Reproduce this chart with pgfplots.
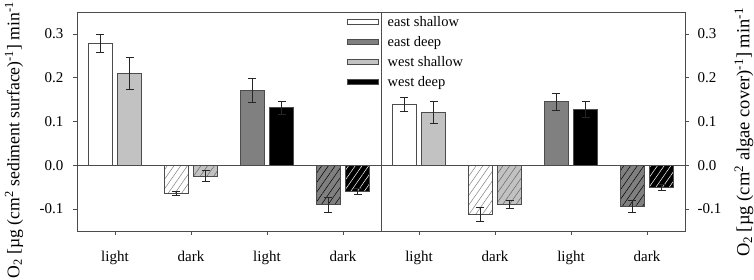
\documentclass[border=0pt]{standalone}
\usepackage{fontspec}
\setmainfont{Liberation Serif}
\usepackage{pgfplots}
\pgfplotsset{compat=1.18}
\usetikzlibrary{patterns.meta}

\definecolor{dg}{gray}{0.5}
\definecolor{lg}{gray}{0.76}
\definecolor{ax}{gray}{0.3}

\tikzset{hatch/.style={postaction={pattern={Lines[angle=55,distance=5.5pt,line width=0.5pt]},pattern color=#1}}}

\pgfplotsset{
 panel/.style={
  width=304pt, height=219pt, scale only axis,
  xmin=-0.5, xmax=3.5, ymin=-0.15, ymax=0.35,
  xtick={0,1,2,3}, xticklabels={light,dark,light,dark},
  ytick={-0.1,0,0.1,0.2,0.3}, yticklabels={-0.1,0.0,0.1,0.2,0.3},
  tick align=outside, major tick length=4pt,
  axis line style={ax, line width=0.7pt},
  tick style={ax, line width=0.7pt},
  ticklabel style={font=\fontsize{15}{18}\selectfont},
  xticklabel style={yshift=-13pt},
  xtick pos=bottom,
 },
 bar/.style={ybar, bar width=24pt, bar shift=0pt, draw=ax, line width=0.6pt,
  error bars/y dir=both, error bars/y explicit,
  error bars/error bar style={black!85, line width=0.6pt},
  error bars/error mark options={rotate=90, mark size=4pt, black!85, line width=0.6pt}},
}

\begin{document}
\begin{tikzpicture}
% left panel: per sediment surface
\begin{axis}[panel, name=L, at={(0pt,0pt)}, anchor=south west,
  ytick pos=left, yticklabel style={xshift=-6pt},
  ylabel={O\textsubscript{2} [µg (cm\textsuperscript{2} sediment surface)\textsuperscript{-1}] min\textsuperscript{-1}},
  every axis y label/.style={at={(rel axis cs:0,0.415)}, xshift=-63pt, rotate=90, anchor=center, font=\fontsize{17.7}{21}\selectfont},
]
\addplot[bar, fill=white] coordinates {(-0.194,0.278) +- (0,0.021)};
\addplot[bar, fill=lg] coordinates {(0.194,0.210) +- (0,0.037)};
\addplot[bar, fill=white, hatch=gray] coordinates {(0.806,-0.064) +- (0,0.004)};
\addplot[bar, fill=lg, hatch=black!60] coordinates {(1.194,-0.024) +- (0,0.012)};
\addplot[bar, fill=dg] coordinates {(1.806,0.171) +- (0,0.028)};
\addplot[bar, fill=black] coordinates {(2.194,0.132) +- (0,0.015)};
\addplot[bar, fill=dg, hatch=black] coordinates {(2.806,-0.090) +- (0,0.017)};
\addplot[bar, fill=black, hatch=white] coordinates {(3.194,-0.060) +- (0,0.007)};
\draw[ax, line width=0.7pt] (axis cs:-0.5,0) -- (axis cs:3.5,0);
\end{axis}
% right panel: per algae cover
\begin{axis}[panel, name=R, at={(304pt,0pt)}, anchor=south west,
  ytick pos=right, yticklabel pos=right, yticklabel style={xshift=5pt},
  ylabel={O\textsubscript{2} [µg (cm\textsuperscript{2} algae cover)\textsuperscript{-1}] min\textsuperscript{-1}},
  every axis y label/.style={at={(rel axis cs:1,0.45)}, xshift=59pt, rotate=90, anchor=center, font=\fontsize{18.5}{21}\selectfont},
  legend style={draw=none, fill=none, at={(rel axis cs:0,1)}, anchor=north west,
    xshift=-34pt, yshift=-2pt, font=\fontsize{14.5}{17}\selectfont, row sep=4.5pt, inner sep=0pt},
  legend cell align=left,
  legend image code/.code={\draw[#1, draw=ax, line width=0.6pt] (0pt,-2.5pt) rectangle (31pt,2.5pt); \path (38pt,0pt);},
]
\addlegendimage{fill=white}\addlegendentry{east shallow}
\addlegendimage{fill=dg}\addlegendentry{east deep}
\addlegendimage{fill=lg}\addlegendentry{west shallow}
\addlegendimage{fill=black}\addlegendentry{west deep}
\addplot[bar, fill=white, forget plot] coordinates {(-0.194,0.139) +- (0,0.016)};
\addplot[bar, fill=lg, forget plot] coordinates {(0.194,0.122) +- (0,0.025)};
\addplot[bar, fill=white, hatch=gray, forget plot] coordinates {(0.806,-0.112) +- (0,0.015)};
\addplot[bar, fill=lg, hatch=black!60, forget plot] coordinates {(1.194,-0.089) +- (0,0.0095)};
\addplot[bar, fill=dg, forget plot] coordinates {(1.806,0.145) +- (0,0.019)};
\addplot[bar, fill=black, forget plot] coordinates {(2.194,0.127) +- (0,0.018)};
\addplot[bar, fill=dg, hatch=black, forget plot] coordinates {(2.806,-0.094) +- (0,0.0135)};
\addplot[bar, fill=black, hatch=white, forget plot] coordinates {(3.194,-0.0495) +- (0,0.007)};
\draw[ax, line width=0.7pt] (axis cs:-0.5,0) -- (axis cs:3.5,0);
\end{axis}
\pgfresetboundingbox
\path[use as bounding box] (-77pt,-49pt) rectangle (677pt,231pt);
\end{tikzpicture}
\end{document}
